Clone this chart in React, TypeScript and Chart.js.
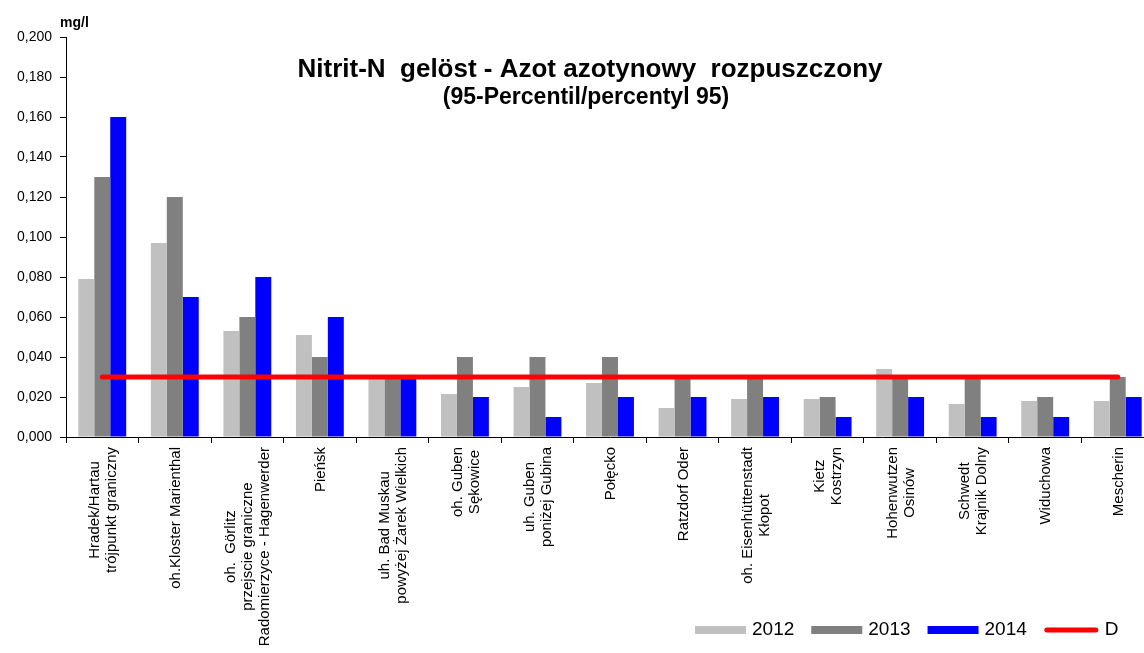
import React, { useEffect, useRef } from 'react';
import { Chart, registerables } from 'chart.js';

Chart.register(...registerables);

const FONT = "'Liberation Sans', Arial, sans-serif";

const titleLines: string[] = [
  'Nitrit-N  gelöst - Azot azotynowy  rozpuszczony',
  '(95-Percentil/percentyl 95)',
];
const unitLabel = 'mg/l';

const categories: string[][] = [
  ['Hradek/Hartau', 'trójpunkt graniczny'],
  ['oh.Kloster Marienthal'],
  ['oh.  Görlitz', 'przejscie graniczne', 'Radomierzyce - Hagenwerder'],
  ['Pieńsk'],
  ['uh. Bad Muskau', 'powyżej Żarek Wielkich'],
  ['oh. Guben', 'Sękowice'],
  ['uh. Guben', 'poniżej Gubina'],
  ['Połęcko'],
  ['Ratzdorf Oder'],
  ['oh. Eisenhüttenstadt', 'Kłopot'],
  ['Kietz', 'Kostrzyn'],
  ['Hohenwutzen', 'Osinów'],
  ['Schwedt', 'Krajnik Dolny'],
  ['Widuchowa'],
  ['Mescherin'],
];

const values2012: number[] = [0.079, 0.097, 0.053, 0.051, 0.029, 0.0215, 0.025, 0.027, 0.0145, 0.019, 0.019, 0.034, 0.0165, 0.018, 0.018];
const values2013: number[] = [0.13, 0.12, 0.06, 0.04, 0.03, 0.04, 0.04, 0.04, 0.03, 0.03, 0.02, 0.03, 0.03, 0.02, 0.03];
const values2014: number[] = [0.16, 0.07, 0.08, 0.06, 0.03, 0.02, 0.01, 0.02, 0.02, 0.02, 0.01, 0.02, 0.01, 0.01, 0.02];
const valuesD: number[] = [0.03, 0.03, 0.03, 0.03, 0.03, 0.03, 0.03, 0.03, 0.03, 0.03, 0.03, 0.03, 0.03, 0.03, 0.03];

const seriesLabels: string[] = ['2012', '2013', '2014', 'D'];
const seriesColors: string[] = ['#c0c0c0', '#808080', '#0000ff', '#ff0000'];

const yMin = 0;
const yMax = 0.2;
const yStep = 0.02;

const CANVAS_W = 1160;
const CANVAS_H = 653;

const decorPlugin = {
  id: 'decor',
  afterDraw(chart: any) {
    const ctx = chart.ctx as CanvasRenderingContext2D;
    const xScale = chart.scales.x;
    const yScale = chart.scales.y;

    // Title
    ctx.save();
    ctx.fillStyle = '#000';
    ctx.textAlign = 'center';
    ctx.textBaseline = 'alphabetic';
    ctx.font = `bold 26px ${FONT}`;
    ctx.fillText(titleLines[0], 590, 77);
    ctx.font = `bold 23px ${FONT}`;
    ctx.fillText(titleLines[1], 586, 104);
    ctx.restore();

    // Unit label
    ctx.save();
    ctx.fillStyle = '#000';
    ctx.font = `bold 14px ${FONT}`;
    ctx.textAlign = 'left';
    ctx.textBaseline = 'alphabetic';
    ctx.fillText(unitLabel, 60, 27);
    ctx.restore();

    // Category labels (rotated, centered lines)
    ctx.save();
    ctx.fillStyle = '#000';
    ctx.font = `15px ${FONT}`;
    const lh = 17;
    const topY = yScale.getPixelForValue(yMin) + 10;
    categories.forEach((lines, i) => {
      const x = xScale.getPixelForValue(i) + 1;
      const maxW = Math.max(...lines.map((l) => ctx.measureText(l).width));
      ctx.save();
      ctx.translate(x, topY);
      ctx.rotate(-Math.PI / 2);
      ctx.textAlign = 'center';
      ctx.textBaseline = 'middle';
      lines.forEach((l, k) => {
        ctx.fillText(l, -maxW / 2, (k - (lines.length - 1) / 2) * lh);
      });
      ctx.restore();
    });
    ctx.restore();

    // Legend
    ctx.save();
    ctx.font = `19px ${FONT}`;
    ctx.textBaseline = 'middle';
    ctx.textAlign = 'left';
    let lx = 695;
    const ly = 630;
    seriesLabels.forEach((lab, i) => {
      if (i < 3) {
        ctx.fillStyle = seriesColors[i];
        ctx.fillRect(lx, ly - 4, 51, 8);
        lx += 51;
      } else {
        ctx.strokeStyle = seriesColors[i];
        ctx.lineWidth = 5;
        ctx.lineCap = 'round';
        ctx.beginPath();
        ctx.moveTo(lx + 3, ly);
        ctx.lineTo(lx + 52, ly);
        ctx.stroke();
        lx += 55;
      }
      lx += 6;
      ctx.fillStyle = '#000';
      ctx.fillText(lab, lx, ly);
      lx += ctx.measureText(lab).width + 17;
    });
    ctx.restore();
  },
};

export default function App() {
  const canvasRef = useRef<HTMLCanvasElement | null>(null);

  useEffect(() => {
    if (!canvasRef.current) return;
    const chart = new Chart(canvasRef.current, {
      type: 'bar',
      data: {
        labels: categories.map((c) => c.join(' ')),
        datasets: [
          {
            type: 'line',
            label: seriesLabels[3],
            data: valuesD,
            borderColor: seriesColors[3],
            backgroundColor: seriesColors[3],
            borderWidth: 5,
            borderCapStyle: 'round',
            pointRadius: 0,
            fill: false,
            order: 0,
          } as any,
          { type: 'bar', label: seriesLabels[0], data: values2012, backgroundColor: seriesColors[0], borderWidth: 0, order: 1 },
          { type: 'bar', label: seriesLabels[1], data: values2013, backgroundColor: seriesColors[1], borderWidth: 0, order: 1 },
          { type: 'bar', label: seriesLabels[2], data: values2014, backgroundColor: seriesColors[2], borderWidth: 0, order: 1 },
        ],
      },
      options: {
        responsive: false,
        animation: false,
        devicePixelRatio: 1,
        datasets: { bar: { categoryPercentage: 0.66, barPercentage: 1.0 } },
        layout: { padding: { top: 37, right: CANVAS_W - 1154, left: 0, bottom: 0 } },
        plugins: {
          legend: { display: false },
          tooltip: { enabled: false },
          title: { display: false },
        },
        scales: {
          x: {
            offset: true,
            grid: { display: true, drawOnChartArea: false, offset: true, tickLength: 6, color: '#000', lineWidth: 1 },
            border: { display: true, color: '#000', width: 1 },
            ticks: { display: false },
            afterFit: (s: any) => {
              s.height = 216;
            },
          },
          y: {
            min: yMin,
            max: yMax,
            ticks: {
              stepSize: yStep,
              color: '#000',
              padding: 8,
              font: { size: 14, family: FONT },
              callback: (v: any) => Number(v).toFixed(3).replace('.', ','),
            },
            grid: { display: true, drawOnChartArea: false, tickLength: 6, color: '#000', lineWidth: 1 },
            border: { display: true, color: '#000', width: 1 },
            afterFit: (s: any) => {
              s.width = 66;
            },
          },
        },
      } as any,
      plugins: [decorPlugin],
    });
    return () => chart.destroy();
  }, []);

  return (
    <div
      style={{
        position: 'fixed',
        left: 0,
        top: 0,
        width: 1144,
        height: 653,
        overflow: 'hidden',
        background: '#fff',
      }}
    >
      <canvas ref={canvasRef} width={CANVAS_W} height={CANVAS_H} style={{ display: 'block' }} />
    </div>
  );
}
